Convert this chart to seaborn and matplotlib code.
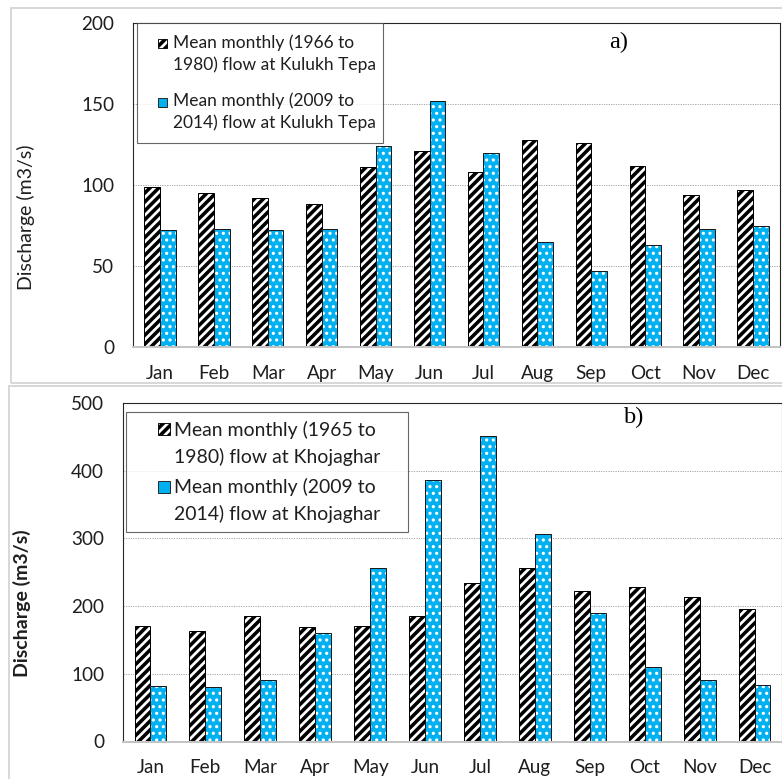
import matplotlib
matplotlib.use("Agg")
import matplotlib.pyplot as plt
from matplotlib.patches import Patch, Rectangle
from matplotlib.legend_handler import HandlerPatch
import numpy as np
import pandas as pd
import seaborn as sns

# Monthly categories
months = ["Jan", "Feb", "Mar", "Apr", "May", "Jun",
          "Jul", "Aug", "Sep", "Oct", "Nov", "Dec"]

# Kulukh Tepa mean monthly discharge (m3/s)
kulukh_1966_1980 = [99, 95, 92, 88, 111, 121, 108, 128, 126, 112, 94, 97]
kulukh_2009_2014 = [72, 73, 72, 73, 124, 152, 120, 65, 47, 63, 73, 75]

# Khojaghar mean monthly discharge (m3/s)
khoja_1965_1980 = [171, 163, 185, 169, 171, 186, 234, 257, 222, 228, 213, 195]
khoja_2009_2014 = [82, 80, 91, 160, 256, 387, 451, 306, 190, 110, 91, 84]

labels_a = ["Mean monthly (1966 to\n1980) flow at Kulukh Tepa",
            "Mean monthly (2009 to\n2014) flow at Kulukh Tepa"]
labels_b = ["Mean monthly (1965 to\n1980) flow at Khojaghar",
            "Mean monthly (2009 to\n2014) flow at Khojaghar"]

yticks_a = [0, 50, 100, 150, 200]
yticks_b = [0, 100, 200, 300, 400, 500]

BLUE = "#00B0F0"
TXT = "#1e1e1e"

sns.set_theme(style="white")
plt.rcParams["font.family"] = ["Lato", "DejaVu Sans"]
plt.rcParams["hatch.linewidth"] = 3.2

W, H, DPI = 782, 779, 80
fig = plt.figure(figsize=(W / DPI, H / DPI), dpi=DPI)


def fx(px):
    return px / W


def fy(py):
    return 1 - py / H


def frac_box(x0, y0, x1, y1):
    return [fx(x0), fy(y1), fx(x1) - fx(x0), fy(y0) - fy(y1)]


# Light panel frames
for (x0, y0, x1, y1) in [(11, 8, 800, 383), (9, 386, 800, 800)]:
    fig.add_artist(Rectangle((fx(x0), fy(y1)), fx(x1) - fx(x0), fy(y0) - fy(y1),
                             transform=fig.transFigure, fill=False,
                             edgecolor="#d4d4d4", linewidth=1.6, zorder=0))


def set_hatch_lw(p, lw):
    if hasattr(p, "set_hatch_linewidth"):
        p.set_hatch_linewidth(lw)
    else:
        p._hatch_linewidth = lw


def key_square(shift, size, lift):
    """Small legend key placed next to the first line of a two-line label."""
    def make(legend, orig_handle, xdescent, ydescent, width, height, fontsize):
        return Rectangle((-xdescent + shift, -ydescent + lift), size, size)
    return HandlerPatch(patch_func=make)


def panel(ax, old, new, labels, yticks, ylabel_weight, ylabel_pos, lg):
    df = pd.DataFrame({
        "month": months * 2,
        "flow": old + new,
        "series": [labels[0]] * 12 + [labels[1]] * 12,
    })
    sns.barplot(data=df, x="month", y="flow", hue="series",
                palette=["white", BLUE], width=0.58, ax=ax,
                legend=False, saturation=1)
    old_bars, new_bars = ax.containers[0], ax.containers[1]
    for p in old_bars:
        p.set_facecolor("white")
        p.set_edgecolor("black")
        p.set_linewidth(0.9)
        p.set_hatch("///")
        set_hatch_lw(p, 3.2)
    for p in new_bars:
        p.set_facecolor(BLUE)
        p.set_edgecolor("white")
        p.set_linewidth(0)
        p.set_hatch("..")
        set_hatch_lw(p, 1.7)
        ax.add_patch(Rectangle(p.get_xy(), p.get_width(), p.get_height(),
                               fill=False, edgecolor="#1a1a1a",
                               linewidth=0.9, zorder=p.get_zorder() + 0.1))

    ax.set_ylim(yticks[0], yticks[-1])
    ax.set_yticks(yticks)
    ax.set_xlabel("")
    ax.set_ylabel("Discharge (m3/s)", fontsize=17.5, color=TXT,
                  fontweight=ylabel_weight)
    ax.yaxis.set_label_coords(*ylabel_pos)
    ax.tick_params(axis="both", length=0, labelsize=17, colors=TXT)
    ax.tick_params(axis="y", pad=17)
    ax.tick_params(axis="x", pad=16)
    ax.set_axisbelow(True)
    ax.yaxis.grid(True, linestyle=(0, (1.2, 1.2)), color="#a8a8a8",
                  linewidth=0.9)
    ax.xaxis.grid(False)
    for s in ["left", "top", "right"]:
        ax.spines[s].set_visible(True)
        ax.spines[s].set_color("#262626")
        ax.spines[s].set_linewidth(1.0)
    ax.spines["bottom"].set_color("#c4c4c4")
    ax.spines["bottom"].set_linewidth(1.8)

    handles = [Patch(facecolor="white", edgecolor="black", hatch="///",
                     linewidth=0.8),
               Patch(facecolor=BLUE, edgecolor="#1a1a1a", linewidth=0.8)]
    hmap = {h: key_square(lg["shift"], lg["size"], lg["lift"]) for h in handles}
    leg = ax.legend(handles, labels, loc="upper left",
                    bbox_to_anchor=lg["box"], mode="expand",
                    borderaxespad=0, fontsize=lg["fs"], frameon=True,
                    fancybox=False, handlelength=lg["hlen"],
                    handleheight=0.5, handletextpad=0.35,
                    labelspacing=lg["gap"], borderpad=lg["pad"],
                    handler_map=hmap)
    leg.get_frame().set_edgecolor("#404040")
    leg.get_frame().set_linewidth(1.0)
    for t in leg.get_texts():
        t.set_color(TXT)
        t.set_linespacing(lg["ls"])
    return ax


legend_a = dict(fs=15.6, ls=1.4, gap=1.15, pad=0.65, hlen=1.09,
                shift=8.8, size=8.0, lift=9.5, box=(0.006, 0.0, 0.380, 1.0))
legend_b = dict(fs=17.4, ls=1.57, gap=0.66, pad=0.45, hlen=1.69,
                shift=20.3, size=10.8, lift=12.2, box=(0.005, 0.0, 0.428, 0.973))

ax_a = fig.add_axes(frac_box(133, 23, 780, 347))
panel(ax_a, kulukh_1966_1980, kulukh_2009_2014, labels_a, yticks_a,
      "normal", (-0.152, 0.40), legend_a)

ax_b = fig.add_axes(frac_box(123, 403, 782, 741.5))
panel(ax_b, khoja_1965_1980, khoja_2009_2014, labels_b, yticks_b,
      "bold", (-0.140, 0.41), legend_b)

fig.text(fx(619), fy(42), "a)", family="Liberation Serif", fontsize=22,
         ha="center", va="center", color="black")
fig.text(fx(633), fy(417), "b)", family="Liberation Serif", fontsize=22,
         ha="center", va="center", color="black")

fig.savefig("out.png", dpi=DPI)
